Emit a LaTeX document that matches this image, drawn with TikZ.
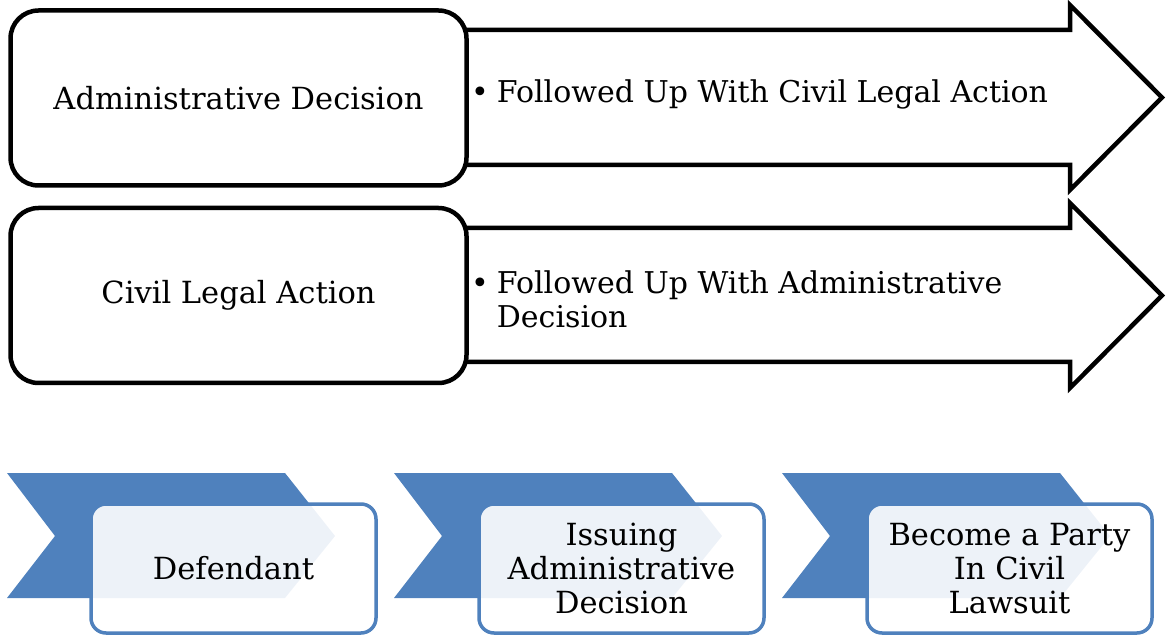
\documentclass[tikz,border=0pt]{standalone}
\usepackage{fontspec}
\setmainfont{DejaVu Serif}
\definecolor{chevblue}{HTML}{4F81BD}
\begin{document}
\begin{tikzpicture}[x=1pt,y=-1pt,
  bigtxt/.style={font=\fontsize{30.5}{34}\selectfont},
  blackbox/.style={draw=black,line width=4.5pt,rounded corners=28pt,fill=white,
    minimum width=456pt,minimum height=175pt,inner sep=0pt,bigtxt,align=center},
  bigarrow/.style={draw=black,line width=4.5pt,fill=white,line join=miter},
  chevron/.style={fill=chevblue,draw=none},
  bluebox/.style={draw=chevblue,line width=3.5pt,rounded corners=15pt,fill=white,
    fill opacity=0.9,text opacity=1,minimum width=285pt,minimum height=129pt,
    inner sep=0pt,bigtxt,align=center},
  bullettxt/.style={anchor=west,inner sep=0pt,font=\fontsize{30}{34}\selectfont}]
\useasboundingbox (0,0) rectangle (1168,636);
% arrows
\draw[bigarrow] (460,30) -- (1070,30) -- (1070,5) -- (1162,97.5) -- (1070,190) -- (1070,165) -- (460,165) -- cycle;
\draw[bigarrow] (460,228) -- (1070,228) -- (1070,203) -- (1162,295.5) -- (1070,388) -- (1070,362) -- (460,362) -- cycle;
% boxes
\node[blackbox] (ad) at (238.5,98) {Administrative Decision};
\node[blackbox] (cla) at (238.5,295.5) {Civil Legal Action};
% bullet texts
\node[bullettxt] (t1) at (471,96) {\begin{tabular}{@{}l@{\hspace{8pt}}l@{}}\textbullet & Followed Up With Civil Legal Action\end{tabular}};
\node[bullettxt] (t2) at (471,304) {\begin{tabular}{@{}l@{\hspace{8pt}}l@{}}\textbullet & Followed Up With Administrative\\ & Decision\end{tabular}};
% chevrons
\foreach \dx in {0,387,775}{
  \fill[chevblue] (7+\dx,473) -- (285+\dx,473) -- (335+\dx,536) -- (285+\dx,598) -- (7+\dx,598) -- (55+\dx,536) -- cycle;
}
\node[bluebox] (b1) at (233.5,568.5) {Defendant};
\node[bluebox] (b2) at (621.5,568.5) {Issuing\\Administrative\\Decision};
\node[bluebox] (b3) at (1009.5,568.5) {Become a Party\\In Civil\\Lawsuit};
\end{tikzpicture}
\end{document}
